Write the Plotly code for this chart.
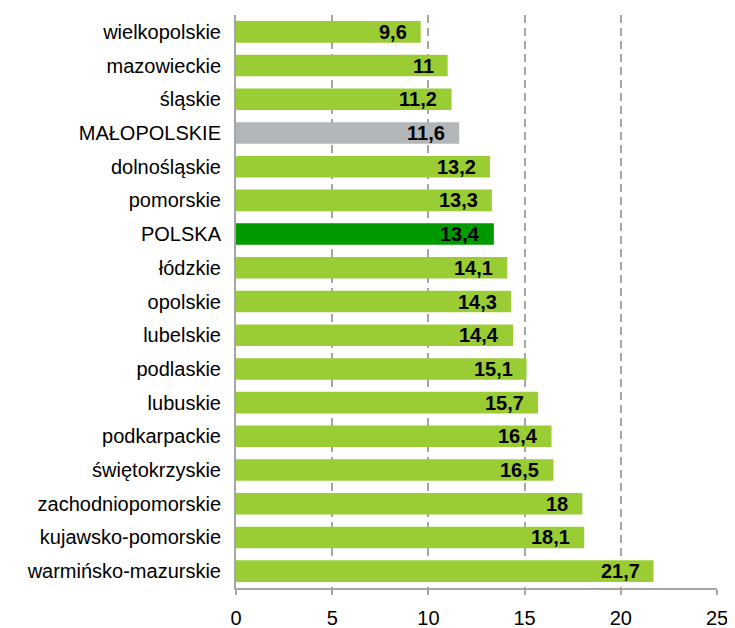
import plotly.graph_objects as go

categories = ["wielkopolskie", "mazowieckie", "śląskie", "MAŁOPOLSKIE", "dolnośląskie",
              "pomorskie", "POLSKA", "łódzkie", "opolskie", "lubelskie", "podlaskie",
              "lubuskie", "podkarpackie", "świętokrzyskie", "zachodniopomorskie",
              "kujawsko-pomorskie", "warmińsko-mazurskie"]
values = [9.6, 11, 11.2, 11.6, 13.2, 13.3, 13.4, 14.1, 14.3, 14.4, 15.1, 15.7, 16.4, 16.5, 18, 18.1, 21.7]
x_ticks = [0, 5, 10, 15, 20, 25]

def col(c):
    if c == "MAŁOPOLSKIE":
        return "#B3B6B9"
    if c == "POLSKA":
        return "#009900"
    return "#9ACD34"

labels = [("%g" % v).replace(".", ",") for v in values]

fig = go.Figure(go.Bar(
    x=values, y=categories, orientation="h",
    marker=dict(color=[col(c) for c in categories], line=dict(width=0)),
    width=0.64, hoverinfo="x+y",
))

for c, v, t in zip(categories, values, labels):
    fig.add_annotation(
        x=v, y=c, xref="x", yref="y", text="<b>%s</b>" % t, showarrow=False,
        xanchor="right", yanchor="middle", xshift=-12, yshift=0,
        font=dict(family="Liberation Sans, Arial", size=20, color="black"),
    )

fig.update_layout(
    width=727, height=620,
    margin=dict(l=228, r=18, t=7, b=40),
    plot_bgcolor="white", paper_bgcolor="white",
    showlegend=False,
    font=dict(family="Liberation Sans, Arial", size=20, color="black"),
)
fig.update_xaxes(
    range=[0, 25], tickvals=x_ticks, ticktext=[str(t) for t in x_ticks],
    showgrid=True, gridcolor="#A6A6A6", griddash="8px,5px", gridwidth=2,
    showline=True, linecolor="#A6A6A6", linewidth=2,
    ticks="outside", ticklen=5, tickcolor="#A6A6A6", tickwidth=2,
    zeroline=False, tickfont=dict(size=20), ticklabelstandoff=6, automargin=False,
)
fig.update_yaxes(
    categoryorder="array", categoryarray=categories,
    range=[16.5, -0.5],
    showline=True, linecolor="#A6A6A6", linewidth=2,
    showgrid=False, ticks="", ticklabelstandoff=9, tickfont=dict(size=20),
    automargin=False,
)

fig.write_html("out.html")
